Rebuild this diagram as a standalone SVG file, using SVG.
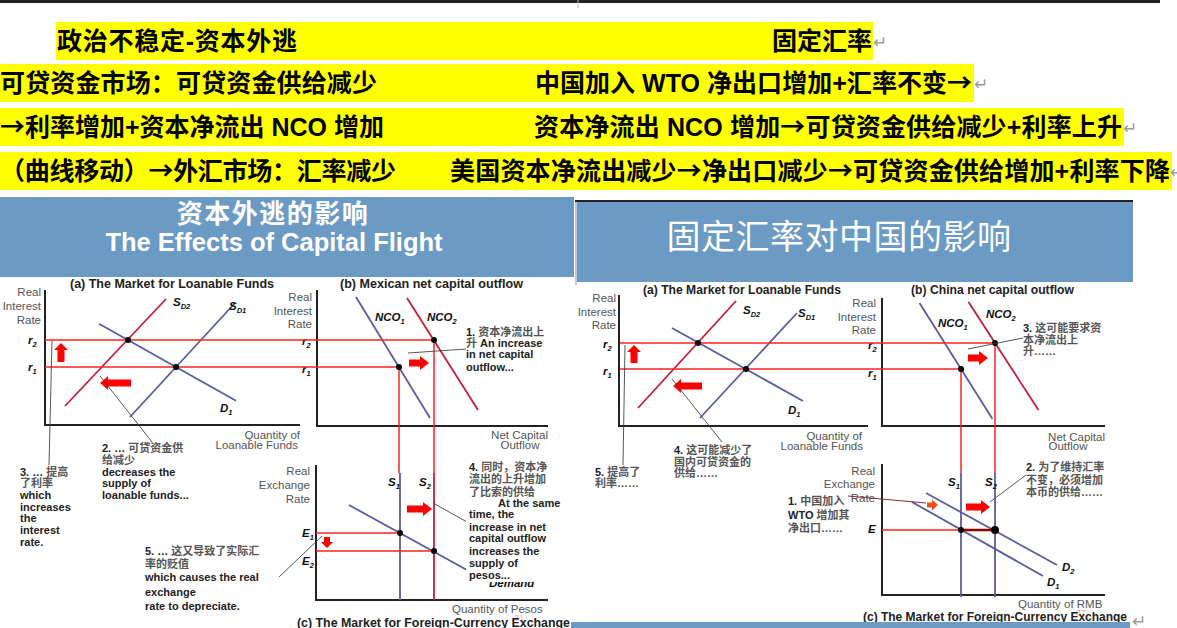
<svg xmlns="http://www.w3.org/2000/svg" width="1177" height="628" viewBox="0 0 1177 628">
<style>
.t{font-family:"Liberation Sans","Noto Sans CJK SC",sans-serif;font-size:25px;font-weight:bold;fill:#000}
.ar{font-family:"Noto Sans CJK SC",sans-serif}
.rt{font-family:"DejaVu Sans",sans-serif;font-size:17px;fill:#9a9a9a}
.bn{font-family:"Liberation Sans","Noto Sans CJK SC",sans-serif;fill:#fff;text-anchor:middle}
.ax{font-family:"Liberation Sans","Noto Sans CJK SC",sans-serif;font-size:11.5px;fill:#555}
.pt{font-family:"Liberation Sans","Noto Sans CJK SC",sans-serif;font-size:12px;font-weight:bold;fill:#222}
.nt{font-family:"Liberation Sans","Noto Sans CJK SC",sans-serif;font-size:11px;font-weight:bold;fill:#222}
.cn{fill:#555}
.v{font-family:"Liberation Sans",sans-serif;font-style:italic;font-weight:bold;font-size:11.5px;fill:#111}
.sub{font-size:7.5px}
.axis{stroke:#222;stroke-width:2;fill:none}
.sl{stroke:#5a5ca0;stroke-width:1.8}
.cr{stroke:#c41e3a;stroke-width:1.8}
.rd{stroke:#ff2020;stroke-width:1.5}
.ld{stroke:#444;stroke-width:0.9}
.arr{fill:#ff0000}
.dot{fill:#000}
.band{fill:#ffff00}
.ban{fill:#6b9ac4}
.pg{font-family:"Liberation Sans",sans-serif;font-size:9px;fill:#f08080;opacity:0.7}
</style>
<rect width="1177" height="628" fill="#fff"/>
<!-- top text area -->
<g id="header-text">
<rect x="0" y="0" width="1160" height="3" fill="#222"/>
<line x1="578" y1="0" x2="578" y2="8" stroke="#bbb" stroke-width="1"/>
<rect class="band" x="56" y="22" width="817" height="38"/>
<rect class="band" x="0" y="64" width="974" height="38"/>
<rect class="band" x="0" y="108" width="1124" height="38"/>
<rect class="band" x="0" y="152" width="1172" height="38"/>
<text class="t" x="57" y="50" textLength="240" lengthAdjust="spacing">政治不稳定-资本外逃</text>
<text class="t" x="772" y="50" textLength="100" lengthAdjust="spacing">固定汇率</text>
<text class="rt" x="873" y="48">↵</text>
<text class="t" x="0" y="92" textLength="377" lengthAdjust="spacing">可贷资金市场：可贷资金供给减少</text>
<text class="t" x="535" y="92" textLength="437" lengthAdjust="spacing">中国加入 WTO 净出口增加+汇率不变<tspan class="ar">→</tspan></text>
<text class="rt" x="974" y="90">↵</text>
<text class="t" x="0" y="136" textLength="384" lengthAdjust="spacing"><tspan class="ar">→</tspan>利率增加+资本净流出 NCO 增加</text>
<text class="t" x="534" y="136" textLength="588" lengthAdjust="spacing">资本净流出 NCO 增加<tspan class="ar">→</tspan>可贷资金供给减少+利率上升</text>
<text class="rt" x="1123" y="134">↵</text>
<text class="t" x="0" y="180" textLength="396" lengthAdjust="spacing">（曲线移动）<tspan class="ar">→</tspan>外汇市场：汇率减少</text>
<text class="t" x="450" y="180" textLength="720" lengthAdjust="spacing">美国资本净流出减少<tspan class="ar">→</tspan>净出口减少<tspan class="ar">→</tspan>可贷资金供给增加+利率下降</text>
<text class="rt" x="1170" y="178">↵</text>
</g>

<!-- LEFT PANEL -->
<g id="left-banner">
<rect class="ban" x="0" y="197" width="574" height="80"/>
<line x1="576" y1="200" x2="576" y2="285" stroke="#bcc8d6" stroke-width="2"/>
<text class="bn" x="273" y="223" font-size="26" font-weight="bold" letter-spacing="1.5">资本外逃的影响</text>
<text class="bn" x="274" y="251" font-size="25.5" font-weight="bold">The Effects of Capital Flight</text>
</g>

<g id="left-a">
<text class="pt" x="70" y="288" textLength="204" lengthAdjust="spacingAndGlyphs">(a) The Market for Loanable Funds</text>
<text class="ax" x="41" y="296" text-anchor="end">Real</text>
<text class="ax" x="41" y="310" text-anchor="end">Interest</text>
<text class="ax" x="41" y="324" text-anchor="end">Rate</text>
<polyline class="axis" points="45,290 45,425 300,425"/>
<text class="v" x="28" y="344">r<tspan class="sub" dy="3">2</tspan></text>
<text class="v" x="28" y="371">r<tspan class="sub" dy="3">1</tspan></text>
<line class="cr" x1="65" y1="406" x2="166" y2="299"/>
<line class="sl" x1="130" y1="417" x2="235" y2="303"/>
<line class="sl" x1="99" y1="323.7" x2="236" y2="400.8"/>
<text class="v" x="173" y="306">S<tspan class="sub" dy="3">D2</tspan></text>
<text class="v" x="229" y="310">S<tspan class="sub" dy="3">D1</tspan></text>
<text class="v" x="220" y="412">D<tspan class="sub" dy="3">1</tspan></text>
<path class="arr" d="M57.5,362 L64.5,362 L64.5,350 L68,350 L61,343 L54,350 L57.5,350 Z"/>
<path class="arr" d="M131,379.5 L108,379.5 L108,376 L100,383 L108,390 L108,386.5 L131,386.5 Z"/>
<text class="ax" x="300" y="439" text-anchor="end">Quantity of</text>
<text class="ax" x="298" y="449" text-anchor="end">Loanable Funds</text>
</g>

<g id="left-b">
<text class="pt" x="340" y="288" textLength="183" lengthAdjust="spacingAndGlyphs">(b) Mexican net capital outflow</text>
<text class="ax" x="312" y="301" text-anchor="end">Real</text>
<text class="ax" x="312" y="315" text-anchor="end">Interest</text>
<text class="ax" x="312" y="328" text-anchor="end">Rate</text>
<polyline class="axis" points="317,290 317,426 548,426"/>
<text class="v" x="302" y="345">r<tspan class="sub" dy="3">2</tspan></text>
<text class="v" x="302" y="373">r<tspan class="sub" dy="3">1</tspan></text>
<line class="sl" x1="356" y1="297" x2="430" y2="418"/>
<line class="cr" x1="407" y1="298" x2="478" y2="410"/>
<text class="v" x="375" y="321">NCO<tspan class="sub" dy="3">1</tspan></text>
<text class="v" x="427" y="321">NCO<tspan class="sub" dy="3">2</tspan></text>
<path class="arr" d="M409,359.5 L420,359.5 L420,356 L429,363 L420,370 L420,366.5 L409,366.5 Z"/>
<text class="ax" x="548" y="439" text-anchor="end">Net Capital</text>
<text class="ax" x="520" y="449" text-anchor="middle">Outflow</text>
</g>

<g id="left-c">
<text class="ax" x="310" y="475" text-anchor="end">Real</text>
<text class="ax" x="310" y="489" text-anchor="end">Exchange</text>
<text class="ax" x="310" y="503" text-anchor="end">Rate</text>
<polyline class="axis" points="316,465 316,600 548,600"/>
<line class="sl" x1="400" y1="473" x2="400" y2="600"/>
<line class="cr" x1="434" y1="473" x2="434" y2="600"/>
<text class="v" x="388" y="486">S<tspan class="sub" dy="3">1</tspan></text>
<text class="v" x="419" y="486">S<tspan class="sub" dy="3">2</tspan></text>
<line class="sl" x1="349" y1="505" x2="467" y2="570"/>
<text class="v" x="302" y="537">E<tspan class="sub" dy="3">1</tspan></text>
<text class="v" x="302" y="565">E<tspan class="sub" dy="3">2</tspan></text>
<path class="arr" d="M324,537 L330,537 L330,542 L333,542 L327,548 L321,542 L324,542 Z"/>
<path class="arr" d="M407,505.5 L423,505.5 L423,502 L432,509 L423,516 L423,512.5 L407,512.5 Z"/>
<text class="v" x="489" y="587">Demand</text>
<text class="ax" x="452" y="613">Quantity of Pesos</text>
<text class="pg" x="514" y="621">31</text>
<text class="pt" x="297" y="627" textLength="273" lengthAdjust="spacingAndGlyphs">(c) The Market for Foreign-Currency Exchange</text>
</g>

<g id="left-connectors">
<line class="rd" x1="45" y1="340" x2="434" y2="340"/>
<line class="rd" x1="45" y1="367" x2="399" y2="367"/>
<line class="rd" x1="399" y1="367" x2="399" y2="473"/>
<line class="rd" x1="434" y1="340" x2="434" y2="473"/>
<line class="rd" x1="316" y1="533" x2="400" y2="533"/>
<line class="rd" x1="316" y1="551" x2="434" y2="551"/>
<circle class="dot" cx="128" cy="340" r="3"/>
<circle class="dot" cx="176" cy="367" r="3"/>
<circle class="dot" cx="434" cy="340" r="3"/>
<circle class="dot" cx="399" cy="367" r="3"/>
<circle class="dot" cx="400" cy="533" r="3"/>
<circle class="dot" cx="434" cy="551" r="3"/>
<line class="ld" x1="100" y1="376" x2="152" y2="442"/>
<line class="ld" x1="52" y1="341" x2="49" y2="465"/>
<line class="ld" x1="408" y1="353" x2="466" y2="349"/>
<line class="ld" x1="279" y1="577" x2="322" y2="536"/>
<line class="ld" x1="433" y1="503" x2="467" y2="522"/>
</g>

<g id="left-notes">
<g id="note-l1">
<text class="nt" x="466" y="336">1. <tspan class="cn">资本净流出上</tspan></text>
<text class="nt" x="466" y="347"><tspan class="cn">升</tspan>  An increase</text>
<text class="nt" x="466" y="358">in net capital</text>
<text class="nt" x="466" y="371">outflow...</text>
</g>
<g id="note-l2">
<text class="nt" x="102" y="452">2. … <tspan class="cn">可贷资金供</tspan></text>
<text class="nt" x="102" y="464"><tspan class="cn">给减少</tspan></text>
<text class="nt" x="102" y="476">decreases the</text>
<text class="nt" x="102" y="487">supply of</text>
<text class="nt" x="102" y="499">loanable funds...</text>
</g>
<g id="note-l3">
<text class="nt" x="20" y="476">3. … <tspan class="cn">提高</tspan></text>
<text class="nt" x="20" y="487"><tspan class="cn">了利率</tspan></text>
<text class="nt" x="20" y="499">which</text>
<text class="nt" x="20" y="511">increases</text>
<text class="nt" x="20" y="522">the</text>
<text class="nt" x="20" y="534">interest</text>
<text class="nt" x="20" y="546">rate.</text>
</g>
<g id="note-l4">
<rect x="466" y="456" width="100" height="126" fill="#fff"/>
<text class="nt" x="469" y="471">4. <tspan class="cn">同时，资本净</tspan></text>
<text class="nt" x="469" y="483"><tspan class="cn">流出的上升增加</tspan></text>
<text class="nt" x="469" y="496"><tspan class="cn">了比索的供给</tspan></text>
<text class="nt" x="498" y="507">At the same</text>
<text class="nt" x="469" y="518">time, the</text>
<text class="nt" x="469" y="531">increase in net</text>
<text class="nt" x="469" y="542">capital outflow</text>
<text class="nt" x="469" y="555">increases the</text>
<text class="nt" x="469" y="567">supply of</text>
<text class="nt" x="469" y="579">pesos...</text>
</g>
<g id="note-l5">
<text class="nt" x="145" y="555">5. … <tspan class="cn">这又导致了实际汇</tspan></text>
<text class="nt" x="145" y="568"><tspan class="cn">率的贬值</tspan></text>
<text class="nt" x="145" y="581">which causes the real</text>
<text class="nt" x="145" y="596">exchange</text>
<text class="nt" x="145" y="610">rate to depreciate.</text>
</g>
</g>

<!-- RIGHT PANEL -->
<g id="right-banner">
<rect class="ban" x="577" y="201" width="556" height="81"/>
<line x1="575" y1="201" x2="1133" y2="201" stroke="#222" stroke-width="2"/>
<text class="bn" x="839" y="249" font-size="34" letter-spacing="0.5">固定汇率对中国的影响</text>
</g>

<g id="right-a">
<text class="pt" x="643" y="294" textLength="198" lengthAdjust="spacingAndGlyphs">(a) The Market for Loanable Funds</text>
<text class="ax" x="616" y="302" text-anchor="end">Real</text>
<text class="ax" x="616" y="316" text-anchor="end">Interest</text>
<text class="ax" x="616" y="329" text-anchor="end">Rate</text>
<polyline class="axis" points="619,295 619,426 868,426"/>
<text class="v" x="603" y="348">r<tspan class="sub" dy="3">2</tspan></text>
<text class="v" x="603" y="375">r<tspan class="sub" dy="3">1</tspan></text>
<line class="cr" x1="638" y1="408" x2="736" y2="301"/>
<line class="sl" x1="700" y1="418" x2="797" y2="313"/>
<line class="sl" x1="672" y1="328" x2="803" y2="401"/>
<text class="v" x="743" y="314">S<tspan class="sub" dy="3">D2</tspan></text>
<text class="v" x="798" y="317">S<tspan class="sub" dy="3">D1</tspan></text>
<text class="v" x="788" y="414">D<tspan class="sub" dy="3">1</tspan></text>
<path class="arr" d="M630.5,363 L637.5,363 L637.5,352 L641,352 L634,345 L627,352 L630.5,352 Z"/>
<path class="arr" d="M702,382.5 L681,382.5 L681,379 L673,386 L681,393 L681,389.5 L702,389.5 Z"/>
<text class="ax" x="862" y="440" text-anchor="end">Quantity of</text>
<text class="ax" x="863" y="450" text-anchor="end">Loanable Funds</text>
</g>

<g id="right-b">
<text class="pt" x="911" y="294" textLength="163" lengthAdjust="spacingAndGlyphs">(b) China net capital outflow</text>
<text class="ax" x="876" y="307" text-anchor="end">Real</text>
<text class="ax" x="876" y="321" text-anchor="end">Interest</text>
<text class="ax" x="876" y="334" text-anchor="end">Rate</text>
<polyline class="axis" points="882,298 882,426 1105,426"/>
<text class="v" x="868" y="349">r<tspan class="sub" dy="3">2</tspan></text>
<text class="v" x="868" y="377">r<tspan class="sub" dy="3">1</tspan></text>
<line class="sl" x1="919.5" y1="303" x2="992.5" y2="419"/>
<line class="cr" x1="968.5" y1="302" x2="1038.5" y2="410"/>
<text class="v" x="938" y="327">NCO<tspan class="sub" dy="3">1</tspan></text>
<text class="v" x="986" y="318">NCO<tspan class="sub" dy="3">2</tspan></text>
<path class="arr" d="M968,354.5 L979,354.5 L979,351 L988,358 L979,365 L979,361.5 L968,361.5 Z"/>
<text class="ax" x="1105" y="441" text-anchor="end">Net Capital</text>
<text class="ax" x="1068" y="450" text-anchor="middle">Outflow</text>
</g>

<g id="right-c">
<text class="ax" x="875" y="475" text-anchor="end">Real</text>
<text class="ax" x="875" y="488" text-anchor="end">Exchange</text>
<text class="ax" x="875" y="502" text-anchor="end">Rate</text>
<polyline class="axis" points="882,464 882,595 1105,595"/>
<line class="sl" x1="961" y1="473" x2="961" y2="597"/>
<line class="sl" x1="995" y1="473" x2="995" y2="597"/>
<text class="v" x="948" y="486">S<tspan class="sub" dy="3">1</tspan></text>
<text class="v" x="985" y="486">S<tspan class="sub" dy="3">2</tspan></text>
<line class="sl" x1="926" y1="493" x2="1057" y2="565"/>
<line class="sl" x1="912" y1="502" x2="1043" y2="576"/>
<text class="v" x="1062" y="571">D<tspan class="sub" dy="3">2</tspan></text>
<text class="v" x="1047" y="586">D<tspan class="sub" dy="3">1</tspan></text>
<text class="v" x="868" y="533">E</text>
<path d="M927,502.5 L932,502.5 L932,499.5 L938,505 L932,510.5 L932,507.5 L927,507.5 Z" fill="#e8501e"/>
<path class="arr" d="M966,503.5 L981,503.5 L981,500 L990,507 L981,514 L981,510.5 L966,510.5 Z"/>
<text class="ax" x="1018" y="608">Quantity of RMB</text>
<text class="pg" x="1076" y="616">37</text>
<text class="pt" x="863" y="621" textLength="264" lengthAdjust="spacingAndGlyphs">(c) The Market for Foreign-Currency Exchange</text>
<rect class="ban" x="571" y="622" width="559" height="6"/>
<text class="rt" x="1132" y="627">↵</text>
</g>

<g id="right-connectors">
<line class="rd" x1="620" y1="343" x2="995" y2="343"/>
<line class="rd" x1="620" y1="369" x2="961" y2="369"/>
<line class="rd" x1="961" y1="369" x2="961" y2="473"/>
<line class="rd" x1="995" y1="343" x2="995" y2="473"/>
<line class="rd" x1="882" y1="530" x2="961" y2="530"/>
<line x1="961" y1="530" x2="995" y2="530" stroke="#8b0000" stroke-width="2.5"/>
<circle class="dot" cx="698" cy="343" r="3"/>
<circle class="dot" cx="746" cy="369" r="3"/>
<circle class="dot" cx="995" cy="343" r="3"/>
<circle class="dot" cx="961" cy="369" r="3"/>
<circle class="dot" cx="961" cy="530" r="3"/>
<circle class="dot" cx="995" cy="530" r="4"/>
<line class="ld" x1="672" y1="379" x2="722" y2="442"/>
<line class="ld" x1="625" y1="345" x2="623" y2="465"/>
<line class="ld" x1="968" y1="349" x2="1023" y2="338"/>
<line x1="848" y1="496" x2="926" y2="503" stroke="#8b2a3a" stroke-width="1"/>
<line class="ld" x1="990" y1="502" x2="1026" y2="475"/>
</g>

<g id="right-notes">
<g id="note-r1">
<text class="nt" x="788" y="505">1. <tspan class="cn">中国加入</tspan></text>
<text class="nt" x="788" y="519">WTO <tspan class="cn">增加其</tspan></text>
<text class="nt" x="788" y="532"><tspan class="cn">净出口……</tspan></text>
</g>
<g id="note-r2">
<text class="nt" x="1026" y="471">2. <tspan class="cn">为了维持汇率</tspan></text>
<text class="nt" x="1026" y="484"><tspan class="cn">不变，必须增加</tspan></text>
<text class="nt" x="1026" y="496"><tspan class="cn">本币的供给……</tspan></text>
</g>
<g id="note-r3">
<text class="nt" x="1023" y="332">3. <tspan class="cn">这可能要求资</tspan></text>
<text class="nt" x="1023" y="344"><tspan class="cn">本净流出上</tspan></text>
<text class="nt" x="1023" y="355"><tspan class="cn">升……</tspan></text>
</g>
<g id="note-r4">
<text class="nt" x="674" y="454">4. <tspan class="cn">这可能减少了</tspan></text>
<text class="nt" x="674" y="466"><tspan class="cn">国内可贷资金的</tspan></text>
<text class="nt" x="674" y="477"><tspan class="cn">供给……</tspan></text>
</g>
<g id="note-r5">
<text class="nt" x="595" y="476">5. <tspan class="cn">提高了</tspan></text>
<text class="nt" x="595" y="487"><tspan class="cn">利率……</tspan></text>
</g>
</g>
</svg>
